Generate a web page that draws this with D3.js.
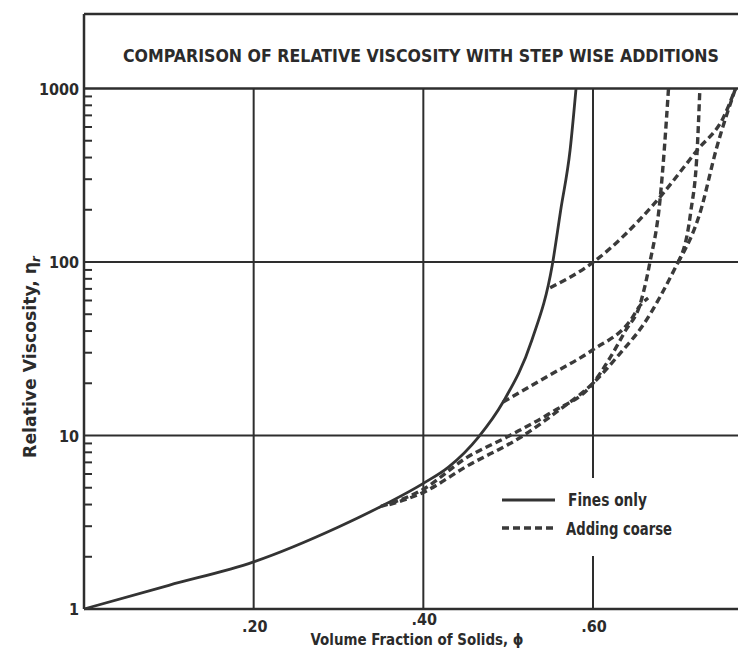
<!DOCTYPE html>
<html>
<head>
<meta charset="utf-8">
<script src="https://cdn.jsdelivr.net/npm/d3@7"></script>
<style>
  html, body { margin: 0; padding: 0; background: #fff; }
  svg { display: block; }
  text { font-family: "Liberation Sans Narrow", "Arial Narrow", "DejaVu Sans Condensed", sans-serif; font-weight: bold; fill: #2b2b2b; }
</style>
</head>
<body>
<svg id="chart" width="738" height="650"></svg>
<script>
// ---- data ----
const titleText = "COMPARISON OF RELATIVE VISCOSITY WITH STEP WISE ADDITIONS";
const xLabel = "Volume Fraction of Solids, \u03d5";
const yLabelMain = "Relative Viscosity, \u03b7";
const yLabelSub = "r";
const xTicks = [0.2, 0.4, 0.6];
const xTickLabels = [".20", ".40", ".60"];
const yTicks = [1, 10, 100, 1000];
const yTickLabels = ["1", "10", "100", "1000"];
const legendLabels = ["Fines only", "Adding coarse"];

// Fines only (solid)
const finesPhi = [0, 0.1, 0.2, 0.3, 0.35, 0.4, 0.43, 0.465, 0.494, 0.528, 0.552, 0.562, 0.573, 0.58];
const finesEta = [1, 1.37, 1.87, 2.97, 3.9, 5.3, 6.6, 9.8, 15.6, 35.5, 96, 200, 442, 1000];

// Adding coarse (dashed), step-wise branches
const coarseAPhi = [0.5495, 0.599, 0.673, 0.723, 0.754, 0.768];
const coarseAEta = [71, 98.7, 219, 442, 685, 1000];

const coarseBPhi = [0.494, 0.547, 0.599, 0.644, 0.656, 0.665];
const coarseBEta = [15.6, 22, 31, 46, 56.5, 62];

const coarseCPhi = [0.35, 0.40, 0.45, 0.502, 0.55, 0.60, 0.62, 0.638, 0.656, 0.667, 0.679, 0.684, 0.689];
const coarseCEta = [3.9, 4.9, 7.4, 10, 13.5, 20, 28, 40, 58, 99, 228, 442, 1000];

const coarseDPhi = [0.36, 0.40, 0.45, 0.518, 0.56, 0.60, 0.63, 0.66, 0.70];
const coarseDEta = [4.0, 4.7, 6.6, 10, 14, 20, 29, 44, 99];

const coarseD1Phi = [0.70, 0.715, 0.723, 0.726];
const coarseD1Eta = [99, 191, 460, 1000];

const coarseD2Phi = [0.70, 0.726, 0.746, 0.768];
const coarseD2Eta = [99, 191, 460, 1000];

// ---- layout ----
const W = 738, H = 650;
const left = 84, bottom = 609, top1000 = 88.5, boxTop = 14;

const svg = d3.select("#chart");
const x = d3.scaleLinear().domain([0, 0.6]).range([left, 593]);
const y = d3.scaleLog().domain([1, 1000]).range([bottom, top1000]);

const ink = "#2e2e2e";

// title box
svg.append("line").attr("x1", left).attr("x2", W).attr("y1", boxTop).attr("y2", boxTop)
  .attr("stroke", ink).attr("stroke-width", 2.5);
svg.append("text").attr("x", 123).attr("y", 62).attr("font-size", 18)
  .attr("textLength", 596).attr("lengthAdjust", "spacingAndGlyphs")
  .text(titleText);

// axes lines
svg.append("line").attr("x1", left).attr("x2", left).attr("y1", boxTop).attr("y2", bottom)
  .attr("stroke", ink).attr("stroke-width", 2.5);
svg.append("line").attr("x1", left).attr("x2", W).attr("y1", bottom).attr("y2", bottom)
  .attr("stroke", ink).attr("stroke-width", 2.5);

// horizontal gridlines
yTicks.filter(d => d > 1).forEach(d => {
  svg.append("line").attr("x1", left).attr("x2", W).attr("y1", y(d)).attr("y2", y(d))
    .attr("stroke", ink).attr("stroke-width", d === 1000 ? 2.6 : 2);
});

// vertical gridlines (the .60 one is interrupted by the legend)
const legendTop = 478, legendBottom = 556;
xTicks.forEach(d => {
  if (d === 0.6) {
    svg.append("line").attr("x1", x(d)).attr("x2", x(d)).attr("y1", y(1000)).attr("y2", legendTop)
      .attr("stroke", ink).attr("stroke-width", 2);
    svg.append("line").attr("x1", x(d)).attr("x2", x(d)).attr("y1", legendBottom).attr("y2", bottom)
      .attr("stroke", ink).attr("stroke-width", 2);
  } else {
    svg.append("line").attr("x1", x(d)).attr("x2", x(d)).attr("y1", y(1000)).attr("y2", bottom)
      .attr("stroke", ink).attr("stroke-width", 2);
  }
});

// minor ticks on y axis (inward)
const minor = [];
[1, 10, 100].forEach(dec => { for (let k = 2; k <= 9; k++) minor.push(dec * k); });
svg.append("g").selectAll("line").data(minor).join("line")
  .attr("x1", left).attr("x2", left + 8).attr("y1", d => y(d)).attr("y2", d => y(d))
  .attr("stroke", ink).attr("stroke-width", 2);

// y tick labels
svg.append("g").selectAll("text").data(yTicks).join("text")
  .attr("x", left - 5).attr("y", d => y(d) + 6)
  .attr("text-anchor", "end").attr("font-size", 16)
  .text((d, i) => yTickLabels[i]);

// x tick labels
svg.append("g").selectAll("text").data(xTicks).join("text")
  .attr("x", d => x(d) + 1).attr("y", d => d === 0.4 ? 625 : 632)
  .attr("text-anchor", "middle").attr("font-size", 16)
  .text((d, i) => xTickLabels[i]);

// axis titles
svg.append("text").attr("x", 417).attr("y", 645).attr("text-anchor", "middle")
  .attr("font-size", 16).attr("textLength", 213).attr("lengthAdjust", "spacingAndGlyphs")
  .text(xLabel);
const yl = svg.append("text").attr("transform", "translate(36,357) rotate(-90)")
  .attr("text-anchor", "middle").attr("font-size", 17);
yl.append("tspan").attr("textLength", 196).attr("lengthAdjust", "spacingAndGlyphs").text(yLabelMain);
yl.append("tspan").attr("dy", 4).attr("font-size", 13).attr("font-style", "italic").text(yLabelSub);

// curves
const line = d3.line().x(d => x(d[0])).y(d => y(d[1])).curve(d3.curveMonotoneX);
const zip = (a, b) => a.map((v, i) => [v, b[i]]);

svg.append("path").datum(zip(finesPhi, finesEta)).attr("d", line)
  .attr("fill", "none").attr("stroke", "#333").attr("stroke-width", 2.8);

const dashed = [
  zip(coarseAPhi, coarseAEta),
  zip(coarseBPhi, coarseBEta),
  zip(coarseCPhi, coarseCEta),
  zip(coarseDPhi, coarseDEta),
  zip(coarseD1Phi, coarseD1Eta),
  zip(coarseD2Phi, coarseD2Eta)
];
svg.append("g").selectAll("path").data(dashed).join("path").attr("d", line)
  .attr("fill", "none").attr("stroke", "#3a3a3a").attr("stroke-width", 3.4)
  .attr("stroke-dasharray", "7,4");

// legend
svg.append("line").attr("x1", 502).attr("x2", 555).attr("y1", 500).attr("y2", 500)
  .attr("stroke", "#333").attr("stroke-width", 3);
svg.append("line").attr("x1", 502).attr("x2", 557).attr("y1", 528).attr("y2", 528)
  .attr("stroke", "#3a3a3a").attr("stroke-width", 3.4).attr("stroke-dasharray", "7,4");
svg.append("text").attr("x", 568).attr("y", 506).attr("font-size", 18)
  .attr("textLength", 79).attr("lengthAdjust", "spacingAndGlyphs").text(legendLabels[0]);
svg.append("text").attr("x", 566).attr("y", 535).attr("font-size", 18)
  .attr("textLength", 106).attr("lengthAdjust", "spacingAndGlyphs").text(legendLabels[1]);
</script>
</body>
</html>
